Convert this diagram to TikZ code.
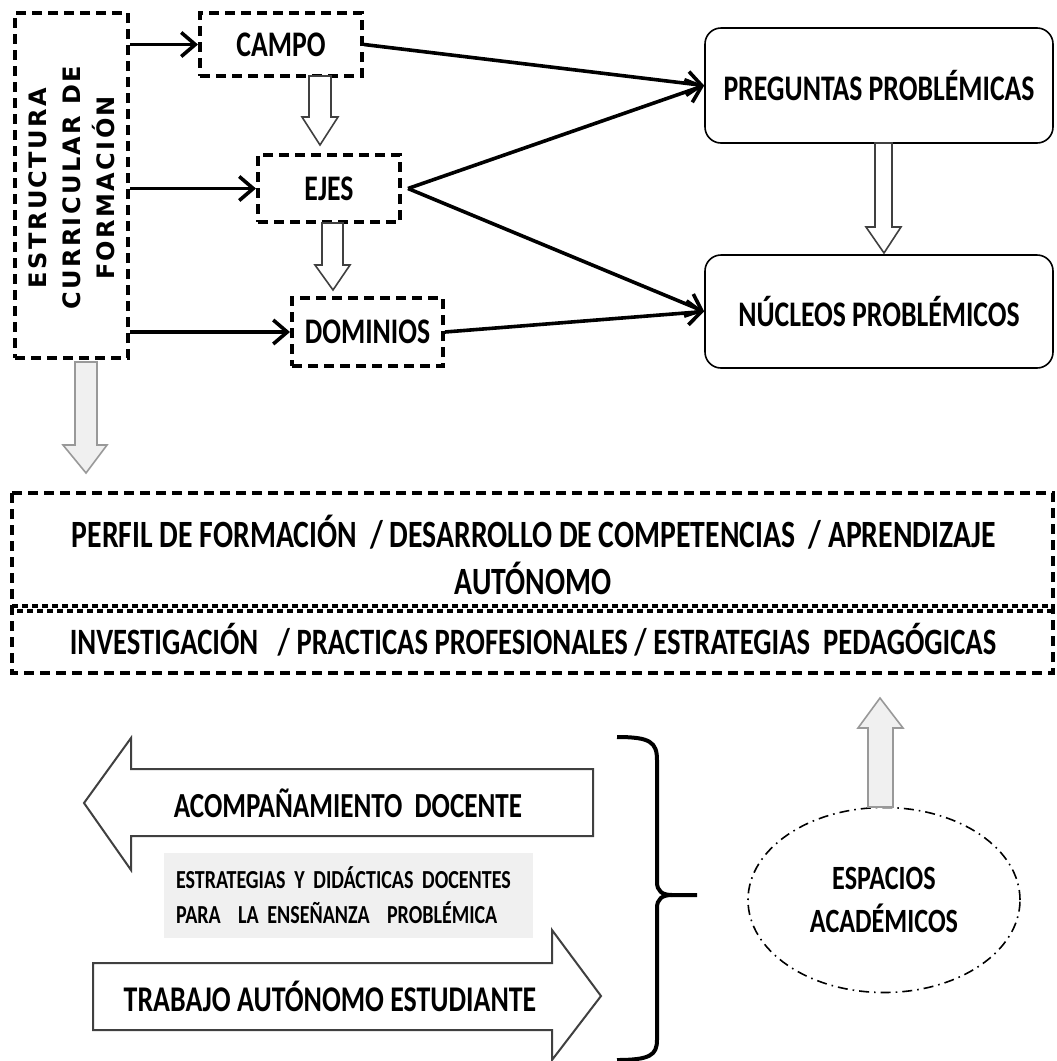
\documentclass[tikz,border=0pt]{standalone}
\usepackage{fontspec}
\setmainfont{Carlito}[FakeStretch=0.77]
\newfontfamily\vertfont{DejaVu Sans}[LetterSpace=10]
\usetikzlibrary{arrows.meta,shapes.geometric}
\usetikzlibrary{positioning}

\begin{document}
\begin{tikzpicture}[x=0.5pt,y=-0.5pt,
	dashbox/.style={draw, line width=2pt, dash pattern=on 5pt off 3pt, inner sep=0pt},
	roundbox/.style={draw, line width=0.8pt, rounded corners=8pt, inner sep=0pt},
	link/.style={line width=1.8pt, -{Straight Barb[length=7pt,width=12pt]}},
	hollow/.style={draw=black!75, fill=white, line width=0.8pt},
	grayhollow/.style={draw=gray!80, fill=gray!12, line width=0.8pt},
	bigarrow/.style={draw=black!75, fill=white, line width=1pt},
	txt/.style={font=\bfseries\fontsize{18}{22}\selectfont, inner sep=0pt}]
	\useasboundingbox (0,0) rectangle (1056,1061);

	% upper part
	\node[dashbox, minimum width=56.5pt, minimum height=172.5pt] (estr) at (71.5,185.5) {};
	\node[rotate=90, align=center, inner sep=0pt,
		font=\vertfont\bfseries\fontsize{12}{17}\selectfont] (estrtxt) at (71.5,188)
		{ESTRUCTURA\\CURRICULAR DE\\FORMACIÓN};
	\node[dashbox, txt, minimum width=81pt, minimum height=31.5pt] (campo) at (281,44.5) {CAMPO};
	\node[dashbox, txt, minimum width=71pt, minimum height=33.5pt] (ejes) at (329,188.5) {EJES};
	\node[dashbox, txt, minimum width=75.5pt, minimum height=34pt] (dom) at (367.5,332) {DOMINIOS};
	\node[roundbox, txt, minimum width=174pt, minimum height=57.5pt] (preg) at (879,85.5) {PREGUNTAS PROBLÉMICAS};
	\node[roundbox, txt, minimum width=174pt, minimum height=56.5pt] (nuc) at (879,311.5) {NÚCLEOS PROBLÉMICOS};

	\draw[link] (estr.east |- campo.west) -- (campo.west);
	\draw[link] (estr.east |- ejes.west) -- (ejes.west);
	\draw[link] (estr.east |- dom.west) -- (dom.west);
	\coordinate[right=3pt of ejes.east] (ejesout);
	\draw[link] (campo.east) -- (preg.west);
	\draw[link] (ejesout) -- (preg.west);
	\draw[link] (ejesout) -- (nuc.west);
	\draw[link] (dom.east) -- (nuc.west);

	\draw[hollow] (309,76) -- (331,76) -- (331,117) -- (338,117) -- (320,145) -- (302,117) -- (309,117) -- cycle;
	\draw[hollow] (322,223) -- (343,223) -- (343,265) -- (350,265) -- (333,290) -- (315,265) -- (322,265) -- cycle;
	\draw[hollow] (875,143) -- (892,143) -- (892,227) -- (901,227) -- (884,253) -- (866,227) -- (875,227) -- cycle;
	\draw[grayhollow] (75,362) -- (97,362) -- (97,445) -- (107,445) -- (86,473) -- (63,445) -- (75,445) -- cycle;

	% perfil
	\draw[dashbox] (12,493) rectangle (1053,673);
	\draw[line width=2pt, dash pattern=on 3pt off 2pt] (12,606) -- (1053,606);
	\draw[line width=2pt, dash pattern=on 3pt off 2pt, dash phase=2.5pt] (12,611) -- (1053,611);
	\node[txt, font=\bfseries\fontsize{19.3}{23}\selectfont] (perfil) at (534,532)
		{PERFIL DE FORMACIÓN \,/ DESARROLLO DE COMPETENCIAS \,/ APRENDIZAJE};
	\node[txt, font=\bfseries\fontsize{19.3}{23}\selectfont] (auto) at (533,578) {AUTÓNOMO};
	\node[txt, font=\bfseries\fontsize{18.6}{23}\selectfont] (invest) at (533,640)
		{INVESTIGACIÓN \ \ / PRACTICAS PROFESIONALES / ESTRATEGIAS \ PEDAGÓGICAS};

	% lower part
	\draw[bigarrow] (593,769) -- (131,769) -- (131,738) -- (84,803) -- (131,870) -- (131,836) -- (593,836) -- cycle;
	\node[txt, font=\bfseries\fontsize{17.6}{22}\selectfont] (acomp) at (348,803) {ACOMPAÑAMIENTO \ DOCENTE};
	\node[fill=gray!12, minimum width=184.5pt, minimum height=42.5pt, inner xsep=6pt, inner ysep=0pt,
		text width=172.5pt, align=left, font=\bfseries\fontsize{13}{17.5}\selectfont] (estrat) at (348.5,895.5)
		{ESTRATEGIAS Y DIDÁCTICAS DOCENTES\\PARA \ LA ENSEÑANZA \ PROBLÉMICA};
	\draw[bigarrow] (93,963) -- (552,963) -- (552,930) -- (601,996) -- (552,1060) -- (552,1030) -- (93,1030) -- cycle;
	\node[txt, font=\bfseries\fontsize{18.1}{22}\selectfont] (trab) at (330,996) {TRABAJO AUTÓNOMO ESTUDIANTE};

	% brace
	\draw[line width=2pt, line join=round] (617,737) .. controls (650,737) and (657,742) .. (657,760) -- (657,882)
		.. controls (657,891) and (662,895) .. (672,895) -- (697,895);
	\draw[line width=2pt, line join=round] (672,895) .. controls (662,895) and (657,899) .. (657,908) -- (657,1040)
		.. controls (657,1055) and (650,1060) .. (617,1060);

	\node[ellipse, draw, line width=0.8pt, dash pattern=on 5pt off 2.5pt on 0.8pt off 2.5pt,
		minimum width=136pt, minimum height=92.5pt, align=center, inner sep=0pt,
		font=\bfseries\fontsize{17}{21.5}\selectfont] (esp) at (884,900) {ESPACIOS\\ACADÉMICOS};
	\draw[grayhollow] (868,807) -- (893,807) -- (893,728) -- (903,728) -- (880,698) -- (858,728) -- (868,728) -- cycle;

\end{tikzpicture}
\end{document}
